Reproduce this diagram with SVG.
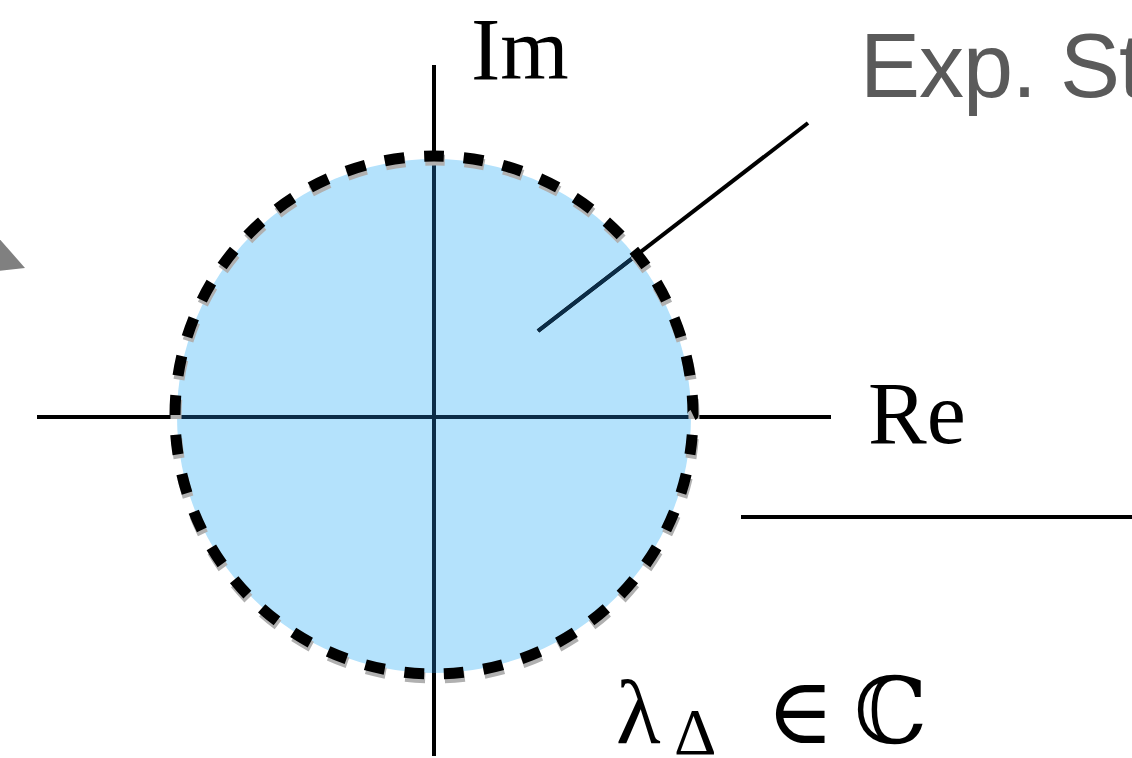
<svg xmlns="http://www.w3.org/2000/svg" width="1132" height="758" viewBox="0 0 1132 758">
  <defs>
    <style>
      .ax { stroke: #000; stroke-width: 4; fill: none; }
      .axin { stroke: #0b2c47; stroke-width: 4; fill: none; }
      .serif { font-family: "Liberation Serif", "DejaVu Serif", serif; fill: #000; }
      .dash { fill: none; stroke-width: 11; stroke-dasharray: 20 20; stroke-dashoffset: 10; }
    </style>
    <clipPath id="disk"><circle cx="434" cy="416" r="257"/></clipPath>
  </defs>
  <rect width="1132" height="758" fill="#fff"/>
  <g id="arrowhead-left">
    <polygon points="-10,228 25,268 -10,272" fill="#808080"/>
  </g>
  <g id="disk-region">
    <circle cx="434" cy="416" r="257" fill="#b4e2fc"/>
  </g>
  <g id="connectors">
    <line class="ax" x1="37" y1="417" x2="831" y2="417"/>
    <line class="ax" x1="434" y1="65" x2="434" y2="756"/>
    <line class="ax" x1="808" y1="123" x2="538" y2="331"/>
    <line class="ax" x1="741" y1="517" x2="1132" y2="517"/>
    <g clip-path="url(#disk)">
      <line class="axin" x1="37" y1="417" x2="831" y2="417"/>
      <line class="axin" x1="434" y1="65" x2="434" y2="756"/>
      <line class="axin" x1="808" y1="123" x2="538" y2="331"/>
    </g>
  </g>
  <g id="boundary">
    <circle class="dash" cx="435" cy="419" r="259" stroke="#b0b0b0" pathLength="1640" transform="rotate(-90 435 419)"/>
    <circle class="dash" cx="434" cy="415" r="259" stroke="#000" pathLength="1640" transform="rotate(-90 434 415)"/>
  </g>
  <g id="label-im"><text class="serif" x="471" y="79" font-size="88">Im</text></g>
  <g id="label-re"><text class="serif" x="868" y="443" font-size="88">Re</text></g>
  <g id="label-exp"><text x="860" y="97" font-family="Liberation Sans, Arial, sans-serif" font-size="90" fill="#5a5a5a" letter-spacing="-1">Exp. St</text></g>
  <g id="label-lambda">
    <text class="serif" font-size="92" x="616" y="743">λ</text>
    <text class="serif" font-size="66" x="674" y="754">Δ</text>
    <text class="serif" font-size="92" x="766" y="743">∈</text>
    <text class="serif" font-size="92" x="854" y="743">ℂ</text>
  </g>
</svg>
